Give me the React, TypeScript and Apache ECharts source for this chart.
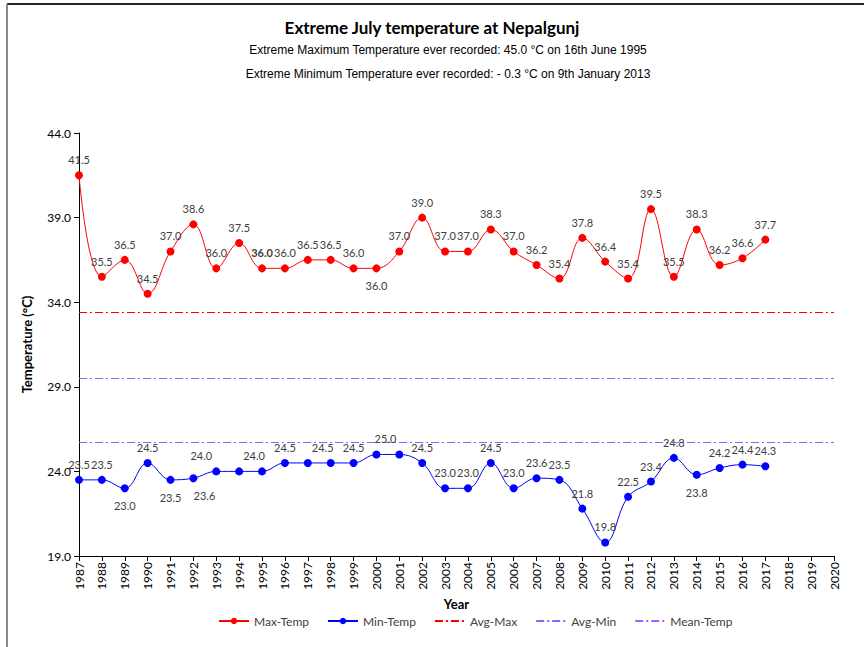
import React, { useEffect, useRef } from "react";
import * as echarts from "echarts";

const years: string[] = [];
for (let y = 1987; y <= 2020; y++) years.push(String(y));

const maxTemp = [41.5, 35.5, 36.5, 34.5, 37.0, 38.6, 36.0, 37.5, 36.0, 36.0, 36.5, 36.5, 36.0, 36.0, 37.0, 39.0, 37.0, 37.0, 38.3, 37.0, 36.2, 35.4, 37.8, 36.4, 35.4, 39.5, 35.5, 38.3, 36.2, 36.6, 37.7];
const minTemp = [23.5, 23.5, 23.0, 24.5, 23.5, 23.6, 24.0, 24.0, 24.0, 24.5, 24.5, 24.5, 24.5, 25.0, 25.0, 24.5, 23.0, 23.0, 24.5, 23.0, 23.6, 23.5, 21.8, 19.8, 22.5, 23.4, 24.8, 23.8, 24.2, 24.4, 24.3];
const avgMax = 33.4;
const avgMin = 25.7;
const meanTemp = 29.5;

const yTicks = { min: 19, max: 44, interval: 5 };

// label tweaks (by year)
const maxBelow = ["2000"];
const maxBold = ["1995"];
const minBelow = ["1989", "1991", "1992", "2014"];
const minHidden = ["1994", "1997", "2001"];
const minOffsetX: Record<string, number> = { "1992": 11, "1993": -15, "1995": -8, "1998": -8, "2000": 9 };

const FONT = "Lato, 'Noto Sans', sans-serif";
const labelColor = "#404040";

export default function App() {
  const ref = useRef<HTMLDivElement>(null);
  useEffect(() => {
    if (!ref.current) return;
    const chart = echarts.init(ref.current, null, { renderer: "svg" });

    const maxData = maxTemp.map((v, i) => {
      const yr = years[i];
      const below = maxBelow.includes(yr);
      return {
        value: v,
        label: {
          position: below ? "bottom" : "top",
          distance: below ? 8 : 6,
          fontWeight: maxBold.includes(yr) ? "bold" : "normal",
        },
      };
    });
    const minData = minTemp.map((v, i) => {
      const yr = years[i];
      const below = minBelow.includes(yr);
      return {
        value: v,
        label: {
          show: !minHidden.includes(yr),
          position: below ? "bottom" : "top",
          distance: below ? 8 : 6,
          offset: [minOffsetX[yr] || 0, 0],
        },
      };
    });

    const dash = [8, 3, 2, 3];
    const refLine = (name: string, value: number, color: string) => ({
      name,
      type: "line",
      data: [],
      symbol: "none",
      itemStyle: { color: "rgba(0,0,0,0)", borderColor: "rgba(0,0,0,0)" },
      lineStyle: { color, width: 1, type: dash },
      silent: true,
      markLine: {
        silent: true,
        symbol: "none",
        label: { show: false },
        lineStyle: { color, width: 1, type: dash },
        emphasis: { disabled: true },
        data: [{ yAxis: value }],
      },
    });

    const subStyle = { fontFamily: "'Liberation Sans', Arial, sans-serif", fontSize: 12, fontWeight: "normal", color: "#000" };

    chart.setOption({
      animation: false,
      backgroundColor: "#ffffff",
      title: [
        {
          text: "Extreme July temperature at Nepalgunj",
          left: "center",
          top: 14,
          textStyle: { fontFamily: FONT, fontSize: 17, fontWeight: "bold", color: "#000" },
        },
        {
          text: "Extreme Maximum Temperature ever recorded: 45.0 °C on 16th June 1995",
          left: 443,
          textAlign: "center",
          top: 39,
          textStyle: subStyle,
        },
        {
          text: "Extreme Minimum Temperature ever recorded: - 0.3 °C on 9th January 2013",
          left: 443,
          textAlign: "center",
          top: 63,
          textStyle: subStyle,
        },
      ],
      graphic: [
        { type: "line", shape: { x1: 7, y1: 4, x2: 864, y2: 4 }, style: { stroke: "#222", lineWidth: 2 }, silent: true },
        { type: "line", shape: { x1: 7, y1: 4, x2: 7, y2: 647 }, style: { stroke: "#888", lineWidth: 2 }, silent: true },
      ],
      grid: { left: 79, right: 30, top: 133, bottom: 91, containLabel: false },
      legend: {
        left: 213,
        top: 610,
        itemWidth: 30,
        itemHeight: 8,
        itemGap: 18,
        textStyle: { fontFamily: FONT, fontSize: 12, color: labelColor },
        data: ["Max-Temp", "Min-Temp", "Avg-Max", "Avg-Min", "Mean-Temp"],
      },
      xAxis: {
        type: "category",
        data: years,
        boundaryGap: false,
        name: "Year",
        nameLocation: "middle",
        nameGap: 41,
        nameTextStyle: { fontFamily: FONT, fontSize: 13, fontWeight: "bold", color: "#000" },
        axisLine: { lineStyle: { color: "#000", width: 1 } },
        axisTick: { show: true, alignWithLabel: true, length: 5, lineStyle: { color: "#000" } },
        axisLabel: { rotate: 90, interval: 0, fontFamily: FONT, fontSize: 12, color: "#000", margin: 6 },
        splitLine: { show: false },
      },
      yAxis: {
        type: "value",
        min: yTicks.min,
        max: yTicks.max,
        interval: yTicks.interval,
        name: "Temperature (°C)",
        nameLocation: "middle",
        nameGap: 46,
        nameTextStyle: { fontFamily: FONT, fontSize: 13, fontWeight: "bold", color: "#000" },
        axisLine: { show: true, lineStyle: { color: "#000", width: 1 } },
        axisTick: { show: true, length: 5, lineStyle: { color: "#000" } },
        axisLabel: { fontFamily: FONT, fontSize: 12, color: "#000", margin: 8, formatter: (v: number) => v.toFixed(1) },
        splitLine: { show: false },
      },
      series: [
        {
          name: "Max-Temp",
          type: "line",
          data: maxData,
          smooth: 0.4,
          symbol: "circle",
          symbolSize: 8,
          itemStyle: { color: "#FF0000" },
          lineStyle: { color: "#FF0000", width: 1 },
          label: {
            show: true,
            fontFamily: FONT,
            fontSize: 11,
            color: labelColor,
            formatter: (p: any) => Number(p.value).toFixed(1),
          },
          z: 5,
        },
        {
          name: "Min-Temp",
          type: "line",
          data: minData,
          smooth: 0.4,
          symbol: "circle",
          symbolSize: 8,
          itemStyle: { color: "#0000FF" },
          lineStyle: { color: "#0000FF", width: 1 },
          label: {
            show: true,
            fontFamily: FONT,
            fontSize: 11,
            color: labelColor,
            formatter: (p: any) => Number(p.value).toFixed(1),
          },
          z: 5,
        },
        refLine("Avg-Max", avgMax, "#FF0000"),
        refLine("Avg-Min", avgMin, "#6E6EFF"),
        refLine("Mean-Temp", meanTemp, "#9966FF"),
      ],
    });
    return () => chart.dispose();
  }, []);
  return <div ref={ref} style={{ position: "absolute", left: 0, top: 0, width: 864, height: 647 }} />;
}
